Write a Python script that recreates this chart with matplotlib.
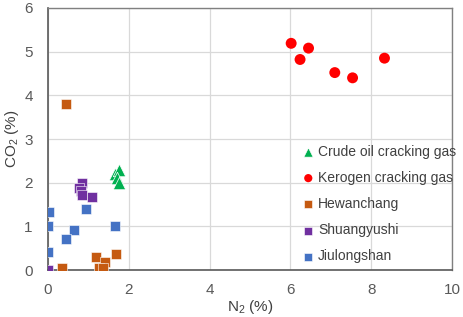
import matplotlib
matplotlib.use("Agg")
import matplotlib.pyplot as plt

plt.rcParams["font.family"] = ["Liberation Sans", "DejaVu Sans"]
plt.rcParams["mathtext.fontset"] = "custom"
plt.rcParams["mathtext.rm"] = "Liberation Sans"
plt.rcParams["mathtext.it"] = "Liberation Sans:italic"

# ---- data ----
crude_n2 = [1.66, 1.75, 1.72, 1.76]
crude_co2 = [2.20, 2.28, 2.10, 2.00]

kerogen_n2 = [6.02, 6.45, 6.24, 7.10, 7.54, 8.33]
kerogen_co2 = [5.19, 5.08, 4.82, 4.52, 4.40, 4.85]

hewan_n2 = [0.45, 0.35, 1.18, 1.41, 1.27, 1.37, 1.68]
hewan_co2 = [3.79, 0.05, 0.30, 0.19, 0.04, 0.05, 0.37]

shuang_n2 = [0.85, 0.78, 0.82, 0.85, 1.08, 0.00]
shuang_co2 = [2.00, 1.88, 1.80, 1.72, 1.68, 0.00]

jiu_n2 = [0.02, 0.00, 0.93, 0.65, 0.45, 0.00, 1.66]
jiu_co2 = [1.34, 1.01, 1.39, 0.92, 0.70, 0.42, 1.01]

x_ticks = [0, 2, 4, 6, 8, 10]
y_ticks = [0, 1, 2, 3, 4, 5, 6]

fig = plt.figure(figsize=(4.64, 3.17), dpi=100)
ax = fig.add_axes([0.1034, 0.148, 0.8706, 0.827])

ax.scatter(crude_n2, crude_co2, marker="^", s=80, c="#00b050",
           edgecolors="white", linewidths=0.5, label="Crude oil cracking gas", zorder=3)
ax.scatter(kerogen_n2, kerogen_co2, marker="o", s=62, c="#ff0000",
           edgecolors="none", label="Kerogen cracking gas", zorder=3)
ax.scatter(hewan_n2, hewan_co2, marker="s", s=55, c="#c55a11",
           edgecolors="white", linewidths=0.4, label="Hewanchang", zorder=3)
ax.scatter(shuang_n2, shuang_co2, marker="s", s=55, c="#7030a0",
           edgecolors="white", linewidths=0.4, label="Shuangyushi", zorder=3)
ax.scatter(jiu_n2, jiu_co2, marker="s", s=55, c="#4472c4",
           edgecolors="white", linewidths=0.4, label="Jiulongshan", zorder=3)

ax.set_xlim(0, 10)
ax.set_ylim(0, 6)
ax.set_xticks(x_ticks)
ax.set_yticks(y_ticks)
ax.tick_params(length=0, labelsize=11, colors="#595959")
ax.tick_params(axis="x", pad=9)
ax.tick_params(axis="y", pad=11)
ax.grid(True, color="#d9d9d9", lw=0.9)
ax.set_axisbelow(True)

for side in ("left", "bottom"):
    ax.spines[side].set_color("#595959")
    ax.spines[side].set_linewidth(1.2)
for side in ("top", "right"):
    ax.spines[side].set_color("#808080")
    ax.spines[side].set_linewidth(1.0)

ax.set_xlabel(r"N$_2$ (%)", fontsize=11, color="#404040", labelpad=1)
ax.set_ylabel(r"CO$_2$ (%)", fontsize=11, color="#404040", labelpad=2)

leg = ax.legend(loc="upper left", bbox_to_anchor=(0.61, 0.50), frameon=False,
                fontsize=10, handletextpad=0.1, labelspacing=0.88,
                handlelength=1.2, borderaxespad=0, markerscale=0.75,
                labelcolor="#404040")

fig.savefig("out.png", dpi=100)
